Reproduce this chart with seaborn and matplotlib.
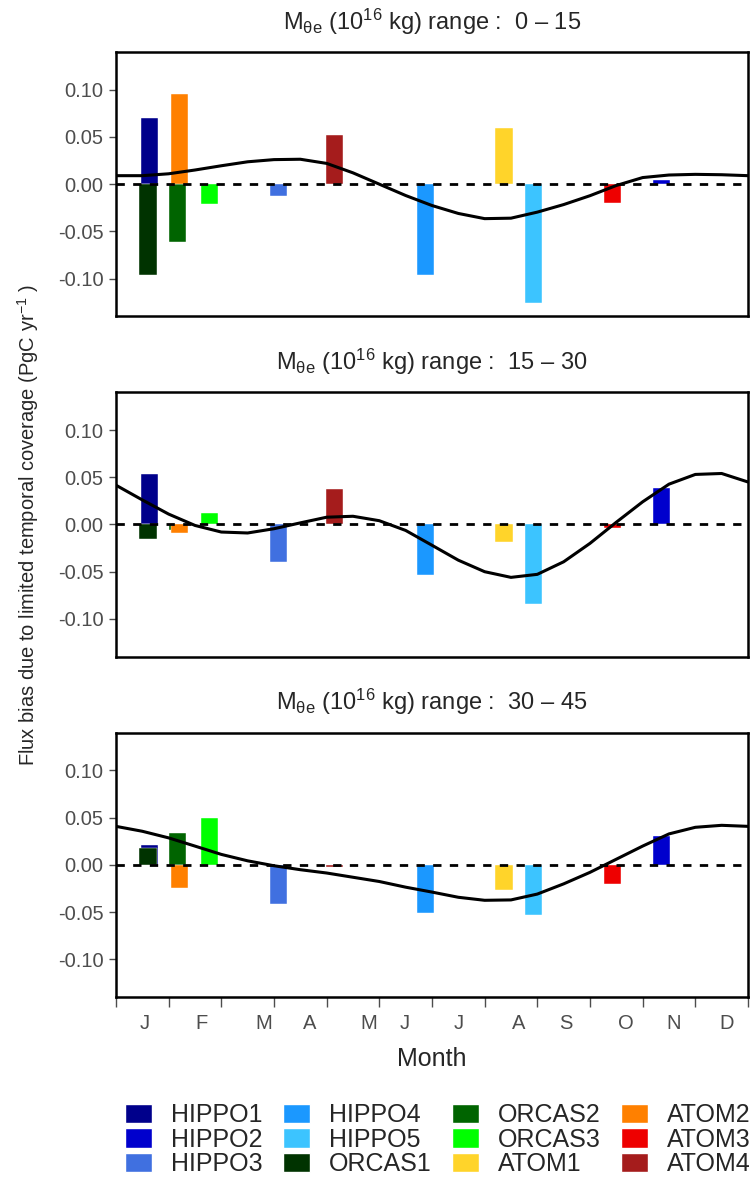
import numpy as np
import seaborn as sns
import matplotlib
matplotlib.use("Agg")
import matplotlib.pyplot as plt
from matplotlib.patches import Patch

# campaigns, colours and bar positions (fractional month, 0 = 1 Jan)
campaigns = ["HIPPO1", "HIPPO2", "HIPPO3", "HIPPO4", "HIPPO5",
             "ORCAS1", "ORCAS2", "ORCAS3",
             "ATOM1", "ATOM2", "ATOM3", "ATOM4"]
colors = ["#00008B", "#0000CD", "#4070E0", "#1B98FF", "#3CC4FF",
          "#003300", "#006400", "#00FF00",
          "#FFD42A", "#FF8000", "#EE0000", "#A51C1C"]
positions = [0.64, 10.36, 3.09, 5.88, 7.93,
             0.61, 1.17, 1.77,
             7.37, 1.21, 9.43, 4.15]

# bar heights per mass range
bias_0_15 = [0.070, 0.004, -0.012, -0.096, -0.126,
             -0.096, -0.061, -0.021,
             0.060, 0.095, -0.020, 0.052]
bias_15_30 = [0.053, 0.039, -0.040, -0.054, -0.084,
              -0.015, -0.006, 0.012,
              -0.019, -0.009, -0.004, 0.038]
bias_30_45 = [0.021, 0.031, -0.041, -0.051, -0.053,
              0.018, 0.034, 0.050,
              -0.027, -0.025, -0.020, -0.002]

# fitted seasonal curve, read every half month
curve_x = [0.0, 0.5, 1.0, 1.5, 2.0, 2.5, 3.0, 3.5, 4.0, 4.5, 5.0, 5.5, 6.0,
           6.5, 7.0, 7.5, 8.0, 8.5, 9.0, 9.5, 10.0, 10.5, 11.0, 11.5, 12.0]
curve_0_15 = [0.009, 0.009, 0.011, 0.015, 0.0195, 0.0237, 0.026, 0.0264, 0.022,
              0.012, 0.0, -0.012, -0.0226, -0.031, -0.0365, -0.036, -0.0296,
              -0.0216, -0.0122, -0.0014, 0.007, 0.0097, 0.0104, 0.010, 0.009]
curve_15_30 = [0.0416, 0.026, 0.011, -0.001, -0.008, -0.009, -0.0045, 0.0017,
               0.0077, 0.0087, 0.004, -0.0063, -0.022, -0.0378, -0.050, -0.056,
               -0.0528, -0.0395, -0.020, 0.0024, 0.024, 0.0427, 0.053, 0.054, 0.045]
curve_30_45 = [0.0407, 0.0355, 0.0285, 0.0198, 0.011, 0.0042, -0.001, -0.0052,
               -0.0087, -0.0132, -0.0177, -0.0237, -0.0289, -0.0344, -0.0376,
               -0.0372, -0.031, -0.0202, -0.008, 0.0059, 0.0198, 0.0327, 0.0397,
               0.0418, 0.0407]

ranges = ["0 \u2013 15", "15 \u2013 30", "30 \u2013 45"]
month_labels = ["J", "F", "M", "A", "M", "J", "J", "A", "S", "O", "N", "D"]
month_label_pos = [0.55, 1.62, 2.81, 3.67, 4.80, 5.49, 6.50, 7.65, 8.55, 9.68, 10.58, 11.59]

sns.set_theme(style="white")
plt.rcParams["font.family"] = ["Liberation Sans", "DejaVu Sans"]
plt.rcParams["axes.unicode_minus"] = False
plt.rcParams["mathtext.fontset"] = "custom"
plt.rcParams["mathtext.rm"] = "Liberation Sans"
plt.rcParams["mathtext.it"] = "Liberation Sans:italic"

GREY = "#4D4D4D"

fig, axes = plt.subplots(3, 1, figsize=(7.56, 11.81), dpi=100, sharex=True)
fig.subplots_adjust(left=0.1534, right=0.9894, top=0.956, bottom=0.1558, hspace=0.287)

panels = [(bias_0_15, curve_0_15), (bias_15_30, curve_15_30), (bias_30_45, curve_30_45)]
for ax, (vals, curve), rng in zip(axes, panels, ranges):
    for name, pos, val, col in zip(campaigns, positions, vals, colors):
        ax.bar(pos, val, width=0.33, color=col, edgecolor="white", linewidth=0.3, zorder=2)
    ax.axhline(0, color="black", lw=2, ls=(0, (3, 3)), zorder=3)
    sns.lineplot(x=curve_x, y=curve, ax=ax, color="black", lw=2.2, zorder=4)
    ax.set_xlim(0, 12)
    ax.set_ylim(-0.14, 0.14)
    ax.set_yticks([-0.10, -0.05, 0.0, 0.05, 0.10])
    ax.set_yticklabels(["-0.10", "-0.05", "0.00", "0.05", "0.10"])
    ax.tick_params(axis="y", length=5, width=1, color=GREY, labelcolor=GREY,
                   labelsize=14.5, left=True, pad=4)
    for sp in ax.spines.values():
        sp.set_color("black")
        sp.set_linewidth(1.8)
    ax.set_title("M$_{\\mathrm{\u03b8e}}$ (10$^{16}$ kg) range :  " + rng,
                 fontsize=17, pad=16)
    ax.set_ylabel("")

for ax in axes[:2]:
    ax.tick_params(axis="x", which="both", bottom=False, labelbottom=False)

ax = axes[2]
ax.set_xticks(month_label_pos)
ax.set_xticklabels(month_labels)
ax.set_xticks(range(13), minor=True)
ax.tick_params(axis="x", which="major", length=0, labelcolor=GREY, labelsize=14.5, pad=12)
ax.tick_params(axis="x", which="minor", bottom=True, length=7, width=1, color=GREY)
ax.set_xlabel("Month", fontsize=18, labelpad=10)

fig.text(0.037, 0.555, r"Flux bias due to limited temporal coverage (PgC yr$^{-1}$ )",
         rotation=90, ha="center", va="center", fontsize=14.5)

handles = [Patch(facecolor=c, edgecolor="white", label=n) for n, c in zip(campaigns, colors)]
fig.legend(handles=handles, loc="lower center", bbox_to_anchor=(0.579, -0.015), ncol=4,
           frameon=False, fontsize=18, handlelength=1.1, handleheight=0.8,
           handletextpad=0.75, labelspacing=0.02, columnspacing=0.8)

fig.savefig("out.png", dpi=100)
